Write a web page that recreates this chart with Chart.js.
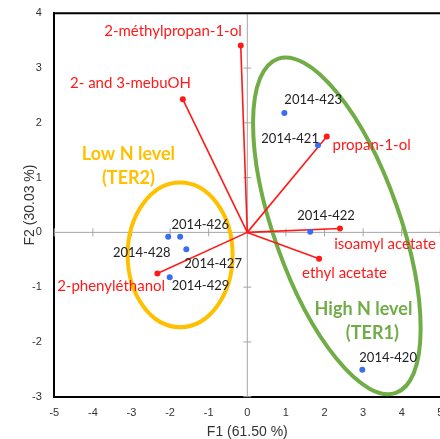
<!DOCTYPE html>
<html>
<head>
<meta charset="utf-8">
<script src="https://cdn.jsdelivr.net/npm/chart.js@4.4.0/dist/chart.umd.min.js"></script>
<style>
  html, body { margin: 0; padding: 0; overflow: hidden; background: #fff; }
  #contenedor { width: 460px; height: 439px; }
</style>
</head>
<body>
<div id="contenedor"><canvas id="grafico" width="460" height="439"></canvas></div>
<script>
// Muestras (puntos azules) sobre F1 / F2
const muestras = ['2014-423', '2014-421', '2014-422', '2014-420', '2014-426', '2014-428', '2014-427', '2014-429'];
const muestrasF1 = [0.96, 1.83, 1.63, 2.98, -1.74, -2.05, -1.58, -2.01];
const muestrasF2 = [2.18, 1.59, 0.01, -2.51, -0.08, -0.08, -0.31, -0.82];

// Variables (vectores rojos desde el origen)
const variables = ['2-méthylpropan-1-ol', '2- and 3-mebuOH', 'propan-1-ol', 'isoamyl acetate', 'ethyl acetate', '2-phenyléthanol'];
const variablesF1 = [-0.17, -1.67, 2.06, 2.40, 1.86, -2.33];
const variablesF2 = [3.41, 2.43, 1.75, 0.07, -0.48, -0.75];

// Ejes
const ticksF1 = [-5, -4, -3, -2, -1, 0, 1, 2, 3, 4, 5];
const ticksF2 = [-3, -2, -1, 0, 1, 2, 3, 4];
const tituloF1 = 'F1 (61.50 %)';
const tituloF2 = 'F2 (30.03 %)';

// Grupos: centro y semiejes conjugados en unidades de los ejes
const grupos = ['Low N level|(TER2)', 'High N level|(TER1)'];
const gruposCentroF1 = [-1.74, 2.32];
const gruposCentroF2 = [-0.41, 0.12];
const gruposEjeU = [[1.36, 0], [1.53, -3.05]];
const gruposEjeV = [[0, 1.32], [-1.54, -0.385]];

// Colocación de textos (px respecto al punto) — separada de los valores
const desplMuestras = [[0, -13, 'left'], [1, -6.5, 'right'], [-13, -16, 'left'], [-3, -12, 'left'],
  [-8.6, -12, 'left'], [2.4, 16, 'right'], [-2, 14, 'left'], [2, 9, 'left']];
const desplVariables = [[1, -14, 'right'], [8, -16, 'right'], [5.7, 8.7, 'left'],
  [-5.7, 16, 'left'], [-17, 14, 'left'], [7.7, 12.3, 'right']];
const textoGrupos = [
  { lineas: [[-3.08, 1.43], [-3.08, 0.99]], color: '#ffc000' },
  { lineas: [[3.01, -1.40], [3.24, -1.84]], color: '#70ad47' }
];
const coloresGrupos = ['#ffc000', '#70ad47'];

const ROJO = '#ff1a1a';
const AZUL = '#3a6ef2';

const fuenteEje = 'Liberation Sans, Arial, sans-serif';
const fuenteTexto = 'Lato, sans-serif';

const extras = {
  id: 'extras',
  beforeDatasetsDraw(chart) {
    const { ctx, chartArea: a, scales: { x, y } } = chart;
    const x0 = x.getPixelForValue(0), y0 = y.getPixelForValue(0);
    ctx.save();
    // ejes por el origen
    ctx.strokeStyle = '#a6a6a6';
    ctx.lineWidth = 1;
    ctx.beginPath();
    ctx.moveTo(x0, a.top); ctx.lineTo(x0, a.bottom);
    ctx.moveTo(a.left, y0); ctx.lineTo(a.right, y0);
    ticksF1.forEach(v => { const px = x.getPixelForValue(v); ctx.moveTo(px, y0 - 4); ctx.lineTo(px, y0 + 4); });
    ticksF2.forEach(v => { const py = y.getPixelForValue(v); ctx.moveTo(x0 - 4, py); ctx.lineTo(x0 + 4, py); });
    ctx.stroke();
    // borde superior
    ctx.strokeStyle = '#000';
    ctx.lineWidth = 2;
    ctx.beginPath();
    ctx.moveTo(a.left - 1, a.top); ctx.lineTo(a.right + 1, a.top);
    ctx.stroke();
    // elipses de los grupos
    grupos.forEach((g, i) => {
      const cx = x.getPixelForValue(gruposCentroF1[i]);
      const cy = y.getPixelForValue(gruposCentroF2[i]);
      const ux = x.getPixelForValue(gruposCentroF1[i] + gruposEjeU[i][0]) - cx;
      const uy = y.getPixelForValue(gruposCentroF2[i] + gruposEjeU[i][1]) - cy;
      const vx = x.getPixelForValue(gruposCentroF1[i] + gruposEjeV[i][0]) - cx;
      const vy = y.getPixelForValue(gruposCentroF2[i] + gruposEjeV[i][1]) - cy;
      ctx.save();
      ctx.beginPath();
      ctx.transform(ux, uy, vx, vy, cx, cy);
      ctx.arc(0, 0, 1, 0, Math.PI * 2);
      ctx.restore();
      ctx.strokeStyle = coloresGrupos[i];
      ctx.lineWidth = 4;
      ctx.stroke();
    });
    ctx.restore();
  },
  afterDatasetsDraw(chart) {
    const { ctx, scales: { x, y } } = chart;
    ctx.save();
    ctx.textBaseline = 'middle';
    // etiquetas de muestras
    ctx.fillStyle = '#222';
    ctx.font = '13px ' + fuenteTexto;
    const metaM = chart.getDatasetMeta(0);
    muestras.forEach((m, i) => {
      const p = metaM.data[i];
      const [dx, dy, al] = desplMuestras[i];
      ctx.textAlign = al;
      ctx.fillText(m, p.x + dx, p.y + dy);
    });
    // etiquetas de variables
    ctx.fillStyle = ROJO;
    ctx.font = '15px ' + fuenteTexto;
    variables.forEach((v, i) => {
      const p = chart.getDatasetMeta(i + 1).data[1];
      const [dx, dy, al] = desplVariables[i];
      ctx.textAlign = al;
      ctx.fillText(v, p.x + dx, p.y + dy);
    });
    // nombres de grupos
    ctx.font = 'bold 18px ' + fuenteTexto;
    ctx.textAlign = 'center';
    grupos.forEach((g, i) => {
      ctx.fillStyle = textoGrupos[i].color;
      g.split('|').forEach((linea, j) => {
        const [fx, fy] = textoGrupos[i].lineas[j];
        ctx.fillText(linea, x.getPixelForValue(fx), y.getPixelForValue(fy));
      });
    });
    ctx.restore();
  }
};

const datasets = [{
  data: muestrasF1.map((v, i) => ({ x: v, y: muestrasF2[i] })),
  pointRadius: 3,
  pointBackgroundColor: AZUL,
  pointBorderWidth: 0,
  showLine: false
}].concat(variables.map((v, i) => ({
  data: [{ x: 0, y: 0 }, { x: variablesF1[i], y: variablesF2[i] }],
  showLine: true,
  borderColor: ROJO,
  borderWidth: 1.6,
  pointRadius: [0, 3],
  pointBackgroundColor: ROJO,
  pointBorderWidth: 0
})));

new Chart(document.getElementById('grafico').getContext('2d'), {
  type: 'scatter',
  data: { datasets },
  plugins: [extras],
  options: {
    responsive: false,
    animation: false,
    layout: { padding: { top: 13.3, right: 19.7, left: 0, bottom: 0 } },
    plugins: { legend: { display: false }, tooltip: { enabled: false } },
    scales: {
      x: {
        type: 'linear', min: -5, max: 5,
        afterBuildTicks: s => { s.ticks = ticksF1.map(v => ({ value: v })); },
        afterFit: s => { s.height = 42.3; s.paddingLeft = 0; s.paddingRight = 0; },
        grid: { display: false, drawTicks: false },
        border: { color: '#000', width: 2 },
        ticks: { padding: 10, color: '#333', font: { family: fuenteEje, size: 11 } },
        title: { display: true, text: tituloF1, color: '#333', padding: 0, font: { family: fuenteEje, size: 14, lineHeight: 1 } }
      },
      y: {
        type: 'linear', min: -3, max: 4,
        afterBuildTicks: s => { s.ticks = ticksF2.map(v => ({ value: v })); },
        afterFit: s => { s.width = 54.3; s.paddingTop = 0; s.paddingBottom = 0; },
        grid: { display: false, drawTicks: false },
        border: { color: '#000', width: 2 },
        ticks: { padding: 12.5, color: '#333', font: { family: fuenteEje, size: 11 } },
        title: { display: true, text: tituloF2, color: '#333', padding: { top: 23, bottom: 0 }, font: { family: fuenteEje, size: 14, lineHeight: 1 } }
      }
    }
  }
});
</script>
</body>
</html>
